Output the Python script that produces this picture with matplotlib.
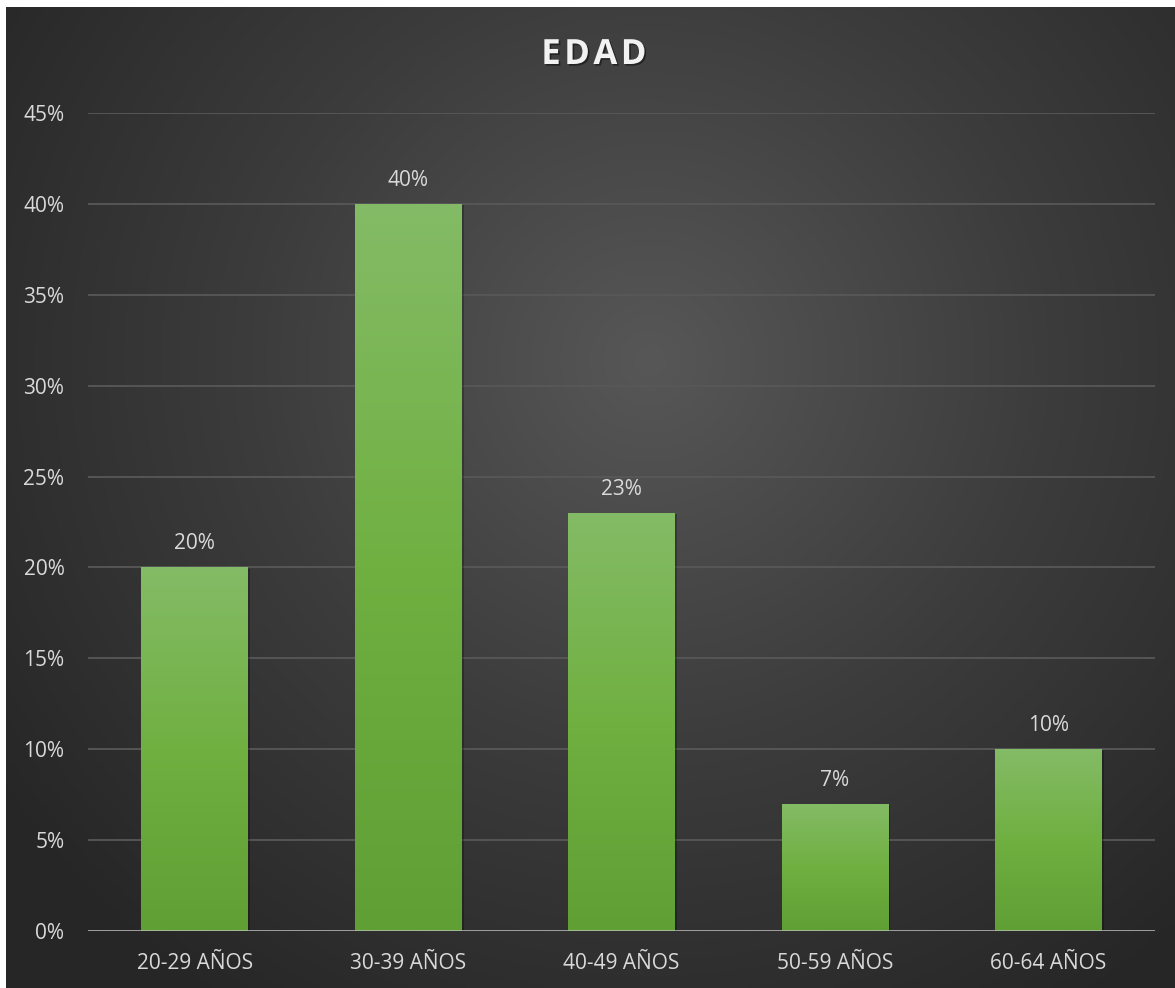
import matplotlib.pyplot as plt
import matplotlib.patheffects as pe
from matplotlib.colors import LinearSegmentedColormap
import numpy as np

categories = ['20-29 AÑOS', '30-39 AÑOS', '40-49 AÑOS', '50-59 AÑOS', '60-64 AÑOS']
values = [0.20, 0.40, 0.23, 0.07, 0.10]
labels = ['20%', '40%', '23%', '7%', '10%']
yticks = [0, 0.05, 0.10, 0.15, 0.20, 0.25, 0.30, 0.35, 0.40, 0.45]

plt.rcParams['font.family'] = ['Open Sans', 'DejaVu Sans']
W, H = 1175, 988
fig = plt.figure(figsize=(W / 100, H / 100), dpi=100)
fig.patch.set_facecolor('white')

# radial dark background
bg = fig.add_axes([6 / W, 0, 1 - 6 / W, 1 - 7 / H], zorder=0)
bg.axis('off')
yy, xx = np.mgrid[0:400, 0:480]
cx, cy = 0.55, 0.36
d = np.sqrt(((xx / 480 - cx) * 1.1) ** 2 + ((yy / 400 - cy) * 0.95) ** 2)
d = np.clip(d / 0.75, 0, 1)
bg_cmap = LinearSegmentedColormap.from_list('bg', ['#575757', '#3c3c3c', '#262626'])
bg.imshow(d, cmap=bg_cmap, aspect='auto', extent=[0, 1, 0, 1], origin='upper')

ax = fig.add_axes([88 / W, 1 - 931 / H, (1155 - 88) / W, (931 - 113) / H], zorder=1)
ax.set_facecolor('none')

x = np.arange(len(categories))
bars = ax.bar(x, values, width=0.5, color='none', zorder=3,
              path_effects=[pe.SimplePatchShadow(offset=(1.5, -1), shadow_rgbFace='black', alpha=0.25),
                            pe.Normal()])
bar_cmap = LinearSegmentedColormap.from_list('bar', ['#5f9f34', '#70b041', '#84bb66'])
grad = np.linspace(0, 1, 256).reshape(-1, 1)
for b in bars:
    im = ax.imshow(grad, cmap=bar_cmap, aspect='auto', origin='lower',
                   extent=[b.get_x(), b.get_x() + b.get_width(), 0, b.get_height()], zorder=3)
    im.set_clip_path(b)

for xi, v, lab in zip(x, values, labels):
    ax.annotate(lab, (xi, v), xytext=(0, 17), textcoords='offset points',
                ha='center', va='center', color='#d9d9d9', fontsize=15)

ax.set_xlim(-0.5, len(categories) - 0.5)
ax.set_ylim(0, 0.45)
ax.set_yticks(yticks)
ax.set_yticklabels([f'{int(round(t * 100))}%' for t in yticks])
ax.set_xticks(x)
ax.set_xticklabels(categories)
ax.tick_params(axis='both', length=0, colors='#d9d9d9', labelsize=15)
ax.tick_params(axis='y', pad=17)
ax.tick_params(axis='x', pad=16)
ax.grid(axis='y', color='#585858', linewidth=1.3, zorder=1)
ax.set_axisbelow(True)
for s in ax.spines.values():
    s.set_visible(False)
ax.axhline(0, color='#c8c8c8', alpha=0.7, linewidth=2, zorder=5)

fig.text((6 + W) / 2 / W + 0.003, 1 - 55 / H, '\u200a'.join('EDAD'), ha='center', va='center',
         fontsize=25, fontweight='bold', color='#f2f2f2',
         path_effects=[pe.withSimplePatchShadow(offset=(1.2, -1.2), shadow_rgbFace='black', alpha=0.45)])

fig.savefig('out.png', dpi=100)
